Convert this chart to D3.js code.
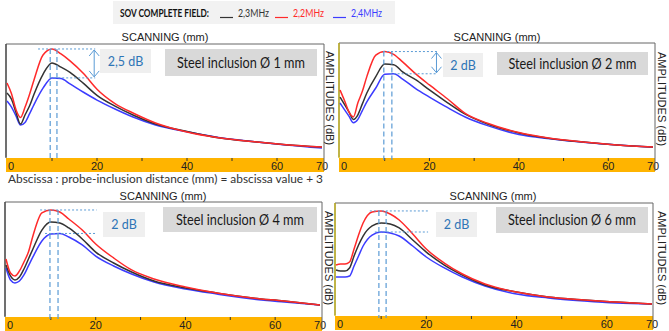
<!DOCTYPE html>
<html>
<head>
<meta charset="utf-8">
<script src="https://cdn.jsdelivr.net/npm/d3@7"></script>
<style>
  body { margin: 0; background: #fff; }
  svg { display: block; }
</style>
</head>
<body>
<svg id="chart" width="669" height="331"></svg>
<script>
// scanning positions (mm) where the curves were read
const xGrid = [0, 1, 2, 3, 4, 5, 6, 8, 10, 12, 14, 17, 20, 24, 28, 33, 40, 47, 55, 62, 70];
const xTickLabels = [0, 20, 40, 60, 70];
const xMinorTicks = [10, 20, 30, 40, 50, 60];

// amplitudes in dB (relative), one array per frequency and inclusion
const d1_23 = [-4.34, -4.89, -6.06, -7.08, -6.28, -5.49, -4.44, -2.68, -1.68, -2.05, -2.51, -3.49, -4.55, -5.50, -6.28, -7.08, -7.74, -8.30, -8.66, -8.91, -9.12];
const d1_22 = [-3.45, -4.40, -5.82, -6.50, -5.60, -4.46, -3.18, -0.97, -0.44, -0.88, -1.49, -2.61, -4.00, -5.27, -6.11, -6.99, -7.79, -8.30, -8.66, -8.91, -9.12];
const d1_24 = [-5.04, -5.58, -6.37, -7.17, -6.94, -6.19, -5.36, -3.91, -3.00, -3.05, -3.53, -4.27, -4.96, -5.75, -6.46, -7.16, -7.77, -8.27, -8.64, -8.93, -9.20];

const d2_23 = [-4.74, -5.39, -6.05, -6.71, -6.30, -5.34, -4.39, -2.95, -1.85, -1.90, -2.54, -3.24, -4.12, -5.22, -6.24, -7.10, -7.89, -8.37, -8.71, -8.94, -9.12];
const d2_22 = [-4.12, -5.04, -6.05, -6.49, -5.24, -4.24, -2.95, -1.07, -0.75, -0.99, -1.66, -2.73, -3.68, -4.89, -6.17, -7.04, -7.86, -8.36, -8.70, -8.94, -9.12];
const d2_24 = [-5.26, -5.84, -6.42, -7.00, -6.70, -5.93, -5.17, -3.95, -2.75, -2.70, -3.16, -4.03, -4.74, -5.65, -6.49, -7.25, -8.02, -8.40, -8.73, -8.95, -9.15];

const d4_23 = [-5.53, -6.49, -6.84, -6.58, -5.88, -5.00, -4.12, -2.46, -1.75, -1.84, -2.28, -3.24, -4.39, -5.35, -6.14, -6.93, -7.54, -7.98, -8.42, -8.68, -9.03];
const d4_22 = [-5.00, -6.23, -6.49, -6.05, -5.26, -4.39, -2.98, -0.96, -0.70, -0.88, -1.49, -2.46, -3.68, -4.91, -5.96, -6.75, -7.45, -7.98, -8.42, -8.68, -9.03];
const d4_24 = [-5.79, -6.84, -7.10, -6.93, -6.40, -5.61, -4.82, -3.42, -2.81, -2.76, -3.07, -3.77, -4.74, -5.61, -6.31, -7.02, -7.63, -8.07, -8.51, -8.77, -9.03];

const d6_23 = [-5.98, -6.07, -6.07, -5.80, -4.73, -3.75, -2.95, -2.05, -1.79, -1.88, -2.23, -3.30, -4.38, -5.54, -6.43, -7.32, -7.95, -8.39, -8.66, -8.84, -9.02];
const d6_22 = [-5.54, -5.45, -5.45, -5.27, -4.11, -2.86, -1.79, -0.80, -0.71, -0.98, -1.52, -2.77, -4.11, -5.36, -6.34, -7.23, -7.95, -8.39, -8.66, -8.84, -9.02];
const d6_24 = [-6.61, -6.61, -6.61, -6.52, -5.63, -4.73, -3.84, -2.86, -2.59, -2.68, -2.95, -3.84, -4.82, -5.80, -6.61, -7.41, -8.13, -8.48, -8.75, -8.93, -9.02];

const freqLabels = ["2,3MHz", "2,2MHz", "2,4MHz"];
const freqColors = ["#333333", "#ff2a2a", "#3c3cff"];
const diameters = ["1", "2", "4", "6"];
const gapLabels = ["2,5 dB", "2 dB", "2 dB", "2 dB"];
// x (mm) of the two dashed peak markers, and of the start / end of the level lines
const peakMarks = [[9.6, 11.1], [9.8, 11.6], [9.8, 11.6], [9.5, 11.1]];
const levelSpan = [[6.9, 9.6, 19.6], [9.6, 11.1, 21.8], [7.6, 8.7, 20.2], [7.5, 8.6, 20.4]];

const svg = d3.select("#chart");
svg.append("rect").attr("width", 669).attr("height", 331).attr("fill", "#fff");

// panel layout
const panels = [
  { data: [d1_23, d1_22, d1_24], box: [6, 44, 324, 157], xr: [7, 322], leftCol: "#444",
    title: [165, 41], amp: [326, 98], arrow: true, gapBox: [100, 49, 151, 73], steelBox: [165, 49, 317, 76] },
  { data: [d2_23, d2_22, d2_24], box: [339, 43, 655, 157], xr: [340, 653], leftCol: "#c8b400",
    title: [497, 41], amp: [658, 99], arrow: true, gapBox: [443, 53, 483, 77], steelBox: [497, 52, 648, 75] },
  { data: [d4_23, d4_22, d4_24], box: [5, 202, 322, 316], xr: [6, 320], leftCol: "#444",
    title: [163, 200], amp: [325, 258], arrow: false, gapBox: [103, 212, 145, 237], steelBox: [163, 207, 317, 232] },
  { data: [d6_23, d6_22, d6_24], box: [335, 203, 653, 315], xr: [336, 652], leftCol: "#c8b400",
    title: [493, 200], amp: [658, 258], arrow: false, gapBox: [436, 212, 477, 237], steelBox: [496, 207, 648, 233] }
];

const dashCol = "#5b9bd5";

panels.forEach(function(p, i) {
  const [x0, y0, x1, y1] = p.box;
  const g = svg.append("g");

  const x = d3.scaleLinear().domain([0, 70]).range(p.xr);
  const y = d3.scaleLinear().domain([-10, 0]).range([y1, y0]);

  // orange axis band
  const bandTop = y1 + 1;
  g.append("rect").attr("x", x0).attr("y", bandTop)
    .attr("width", x1 - x0).attr("height", Math.min(14, 331 - bandTop))
    .attr("fill", "#ffb400");

  g.selectAll(".tick").data(xMinorTicks).enter().append("line")
    .attr("x1", d => x(d)).attr("x2", d => x(d))
    .attr("y1", bandTop).attr("y2", bandTop + 3)
    .attr("stroke", "#333").attr("stroke-width", 1);

  g.selectAll(".tlab").data(xTickLabels).enter().append("text")
    .attr("x", d => d === 0 ? x(d) + 1 : x(d))
    .attr("y", bandTop + 12)
    .attr("text-anchor", d => d === 0 ? "start" : "middle")
    .attr("font-family", "Liberation Sans, Arial, sans-serif")
    .attr("font-size", 11).attr("fill", "#222")
    .text(d => d);

  // frame
  g.append("path")
    .attr("d", `M${x0},${y1}V${y0}H${x1}V${y1 + 14}`)
    .attr("fill", "none").attr("stroke", "#666").attr("stroke-width", 1);
  g.append("line").attr("x1", x0).attr("x2", x0).attr("y1", y0).attr("y2", y1 + 1)
    .attr("stroke", p.leftCol).attr("stroke-width", 1.2);

  // curves
  const line = d3.line()
    .x(d => x(d[0])).y(d => y(d[1]))
    .curve(d3.curveMonotoneX);
  [2, 0, 1].forEach(function(k) {
    g.append("path")
      .datum(xGrid.map((v, j) => [v, p.data[k][j]]))
      .attr("d", line)
      .attr("fill", "none")
      .attr("stroke", freqColors[k])
      .attr("stroke-width", 1.5);
  });

  // peak annotation
  const topLevel = d3.max(p.data[1]);
  const botLevel = d3.max(p.data[2]);
  const span = levelSpan[i];
  const ann = g.append("g").attr("stroke", dashCol).attr("stroke-width", 1).attr("fill", "none");
  ann.append("line").attr("x1", x(span[0])).attr("x2", x(span[2]))
    .attr("y1", y(topLevel)).attr("y2", y(topLevel)).attr("stroke-dasharray", "2,2");
  ann.append("line").attr("x1", x(span[1])).attr("x2", x(span[2]))
    .attr("y1", y(botLevel)).attr("y2", y(botLevel)).attr("stroke-dasharray", "2,2");
  peakMarks[i].forEach(function(m) {
    ann.append("line").attr("x1", x(m)).attr("x2", x(m))
      .attr("y1", y(topLevel)).attr("y2", y1 + 3)
      .attr("stroke-dasharray", "5,3").attr("stroke-width", 1.2);
  });
  if (p.arrow) {
    const ax = x(span[2]) - 1;
    const ya = y(topLevel) + 1, yb = y(botLevel) - 1;
    ann.append("line").attr("x1", ax).attr("x2", ax).attr("y1", ya).attr("y2", yb);
    ann.append("path").attr("d", `M${ax - 5},${ya + 6}L${ax},${ya}L${ax + 5},${ya + 6}`);
    ann.append("path").attr("d", `M${ax - 5},${yb - 6}L${ax},${yb}L${ax + 5},${yb - 6}`);
  }

  // dB gap label
  const gb = p.gapBox;
  g.append("rect").attr("x", gb[0]).attr("y", gb[1])
    .attr("width", gb[2] - gb[0]).attr("height", gb[3] - gb[1]).attr("fill", "#efefef");
  g.append("text").attr("x", (gb[0] + gb[2]) / 2).attr("y", (gb[1] + gb[3]) / 2 + 4.5)
    .attr("text-anchor", "middle")
    .attr("font-family", "Lato, Open Sans, sans-serif").attr("font-size", 12.5)
    .attr("fill", "#2e75b6").text(gapLabels[i]);

  // inclusion label
  const sb = p.steelBox;
  g.append("rect").attr("x", sb[0]).attr("y", sb[1])
    .attr("width", sb[2] - sb[0]).attr("height", sb[3] - sb[1]).attr("fill", "#d9d9d9");
  g.append("text").attr("x", (sb[0] + sb[2]) / 2).attr("y", (sb[1] + sb[3]) / 2 + 5)
    .attr("text-anchor", "middle")
    .attr("font-family", "Lato, Open Sans, sans-serif").attr("font-size", 14.5)
    .attr("fill", "#1a1a1a")
    .attr("textLength", 128).attr("lengthAdjust", "spacingAndGlyphs")
    .text("Steel inclusion \u00D8 " + diameters[i] + " mm");

  // axis titles
  g.append("text").attr("x", p.title[0]).attr("y", p.title[1])
    .attr("text-anchor", "middle")
    .attr("font-family", "Liberation Sans, Arial, sans-serif").attr("font-size", 11)
    .attr("fill", "#222").text("SCANNING (mm)");
  g.append("text")
    .attr("transform", `translate(${p.amp[0]},${p.amp[1]}) rotate(90)`)
    .attr("text-anchor", "middle")
    .attr("font-family", "Liberation Sans, Arial, sans-serif").attr("font-size", 11)
    .attr("fill", "#222").text("AMPLITUDES (dB)");
});

// abscissa note
svg.append("text").attr("x", 8).attr("y", 183)
  .attr("font-family", "Lato, Open Sans, sans-serif").attr("font-size", 12)
  .attr("fill", "#333")
  .attr("textLength", 315).attr("lengthAdjust", "spacingAndGlyphs")
  .text("Abscissa : probe-inclusion distance (mm) =  abscissa value + 3");

// legend
const legend = svg.append("g");
legend.append("rect").attr("x", 113).attr("y", 1).attr("width", 282).attr("height", 23).attr("fill", "#f2f2f2");
legend.append("text").attr("x", 120).attr("y", 17)
  .attr("font-family", "Liberation Sans Narrow, Lato, sans-serif").attr("font-size", 11).attr("font-weight", "bold")
  .attr("fill", "#111")
  .attr("textLength", 89).attr("lengthAdjust", "spacingAndGlyphs")
  .text("SOV COMPLETE FIELD:");
const legX = [220, 275, 333];
freqLabels.forEach(function(lab, k) {
  legend.append("line").attr("x1", legX[k]).attr("x2", legX[k] + 13)
    .attr("y1", 17.5).attr("y2", 17.5).attr("stroke", freqColors[k]).attr("stroke-width", 1.2);
  legend.append("text").attr("x", legX[k] + 18).attr("y", 17)
    .attr("font-family", "Lato, Open Sans, sans-serif").attr("font-size", 12)
    .attr("fill", freqColors[k])
    .attr("textLength", 31).attr("lengthAdjust", "spacingAndGlyphs")
    .text(lab);
});
</script>
</body>
</html>
